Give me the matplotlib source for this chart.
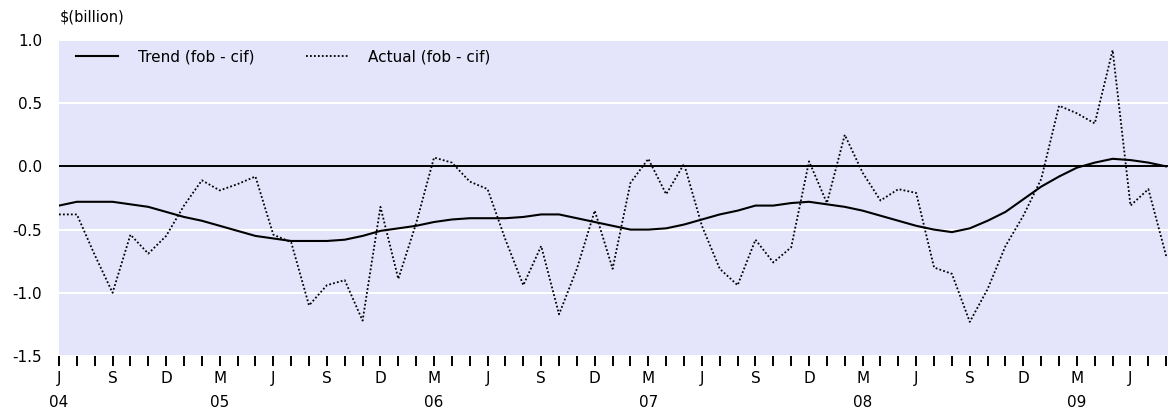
import numpy as np
import matplotlib
matplotlib.use("Agg")
import matplotlib.pyplot as plt

# Monatsdaten Juni 2004 bis August 2009, $ Milliarden
actual = [-0.38, -0.38, -0.70, -1.00, -0.54, -0.69, -0.55, -0.31, -0.11, -0.19,
          -0.14, -0.08, -0.54, -0.60, -1.10, -0.94, -0.90, -1.22, -0.32, -0.89,
          -0.45, 0.07, 0.03, -0.12, -0.18, -0.58, -0.94, -0.63, -1.17, -0.81,
          -0.35, -0.81, -0.13, 0.06, -0.22, 0.02, -0.47, -0.81, -0.94, -0.58,
          -0.76, -0.64, 0.04, -0.29, 0.25, -0.05, -0.27, -0.18, -0.21, -0.80,
          -0.85, -1.23, -0.97, -0.63, -0.39, -0.10, 0.48, 0.42, 0.34, 0.92,
          -0.31, -0.18, -0.71]
trend = [-0.31, -0.28, -0.28, -0.28, -0.30, -0.32, -0.36, -0.40, -0.43, -0.47,
         -0.51, -0.55, -0.57, -0.59, -0.59, -0.59, -0.58, -0.55, -0.51, -0.49,
         -0.47, -0.44, -0.42, -0.41, -0.41, -0.41, -0.40, -0.38, -0.38, -0.41,
         -0.44, -0.47, -0.50, -0.50, -0.49, -0.46, -0.42, -0.38, -0.35, -0.31,
         -0.31, -0.29, -0.28, -0.30, -0.32, -0.35, -0.39, -0.43, -0.47, -0.50,
         -0.52, -0.49, -0.43, -0.36, -0.26, -0.16, -0.08, -0.01, 0.03, 0.06,
         0.05, 0.03, 0.00]

# Beschriftung jedes dritten Monats
x_labels = ['J\n04', 'S', 'D', 'M\n05', 'J', 'S', 'D', 'M\n06', 'J', 'S', 'D',
            'M\n07', 'J', 'S', 'D', 'M\n08', 'J', 'S', 'D', 'M\n09', 'J']
y_ticks = [1.0, 0.5, 0.0, -0.5, -1.0, -1.5]

plt.rcParams['font.family'] = ['DejaVu Sans']
fig = plt.figure(figsize=(11.68, 4.18), dpi=100)
ax = fig.add_axes([59 / 1168, 1 - 356 / 418, 1 - 59 / 1168, 316 / 418])
ax.set_facecolor('#E4E4FA')

months = np.arange(len(actual))
ax.set_xlim(0, 62.1)
ax.set_ylim(-1.5, 1.0)

# Gitter und Nulllinie
ax.set_yticks(y_ticks)
ax.set_yticklabels([f'{v:.1f}' for v in y_ticks])
ax.grid(axis='y', color='white', linewidth=1.5)
ax.axhline(0, color='black', linewidth=1.4, zorder=2)

ax.plot(months, trend, color='black', linewidth=1.5, label='Trend (fob - cif)', zorder=3)
ax.plot(months, actual, color='black', linewidth=1.3, linestyle=(0, (1, 1.2)),
        label='Actual (fob - cif)', zorder=3)

# x-Achse: Striche jeden Monat, Text jeden dritten
labels = [''] * len(actual)
for i, lab in enumerate(x_labels):
    labels[i * 3] = lab
ax.set_xticks(months)
ax.set_xticklabels(labels, linespacing=1.75)
ax.tick_params(axis='x', length=7, width=1.4, pad=4, labelsize=11)
ax.tick_params(axis='y', length=0, pad=12, labelsize=11)

for s in ax.spines.values():
    s.set_visible(False)

fig.text(60 / 1168, 1 - 17 / 418, '\\$(billion)', fontsize=10.5, va='center', ha='left')

ax.legend(loc='upper left', bbox_to_anchor=(8 / 1109, 1), ncol=2, frameon=False,
          fontsize=11, handlelength=2.75, handletextpad=1.3, columnspacing=3.4,
          borderaxespad=0.2)

fig.savefig('out.png', dpi=100)
